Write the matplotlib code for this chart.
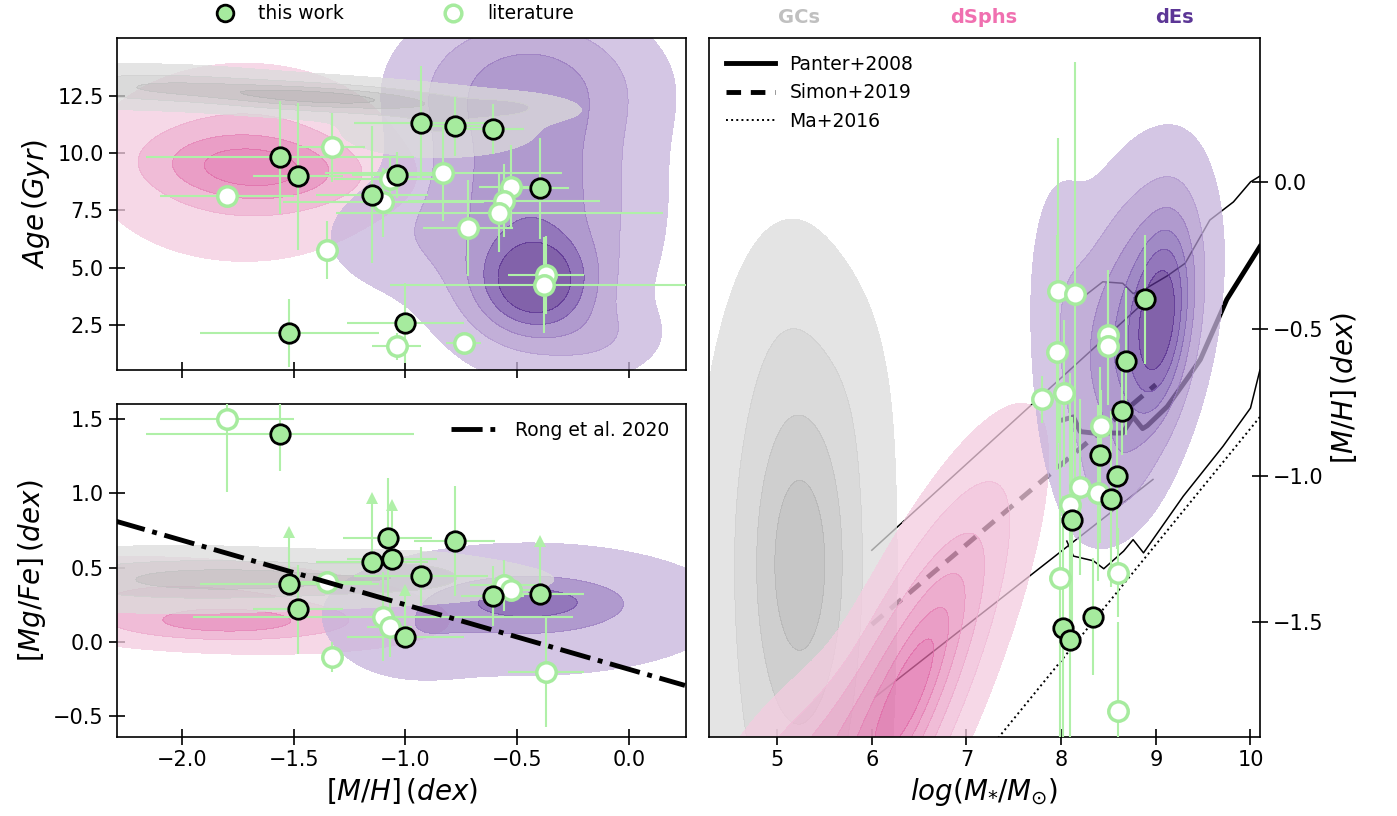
import numpy as np
import matplotlib.pyplot as plt
from matplotlib.lines import Line2D
from matplotlib.colors import to_rgb

# ---------------- data ----------------
# this work: [M/H], age, errors
tw_mh_age = [-0.93, -0.78, -0.61, -1.56, -1.48, -1.04, -1.15, -0.40, -1.00, -1.52]
tw_age = [11.32, 11.17, 11.04, 9.81, 8.99, 9.05, 8.19, 8.46, 2.59, 2.15]
tw_age_xerr = [0.30, 0.12, 0.14, 0.60, 0.20, 0.20, 0.25, 0.13, 0.26, 0.40]
tw_age_yerr = [2.5, 1.3, 1.1, 2.45, 3.2, 1.0, 3.0, 2.2, 1.75, 1.5]

# literature: [M/H], age, errors
lit_mh_age = [-1.33, -1.80, -1.07, -1.10, -0.83, -0.53, -0.56, -0.58, -0.72, -1.35, -0.37, -0.38, -1.04, -0.74]
lit_age = [10.26, 8.11, 8.88, 7.85, 9.12, 8.54, 7.92, 7.37, 6.73, 5.76, 4.66, 4.24, 1.56, 1.71]
lit_age_xerr = [0.15, 0.30, 0.25, 0.45, 0.53, 0.14, 0.43, 0.73, 0.20, 0.0, 0.17, 0.69, 0.11, 0.08]
lit_age_yerr = [1.5, 0.3, 0.9, 1.5, 2.1, 1.8, 1.6, 1.7, 2.1, 1.27, 1.7, 2.1, 0.6, 0.3]

# this work: [M/H], [Mg/Fe]
tw_mh_mg = [-1.56, -1.52, -1.48, -1.15, -1.08, -1.06, -1.00, -0.93, -0.78, -0.61, -0.40]
tw_mg = [1.40, 0.39, 0.22, 0.54, 0.70, 0.56, 0.03, 0.44, 0.68, 0.31, 0.32]
tw_mg_xerr = [0.60, 0.40, 0.20, 0.25, 0.20, 0.20, 0.26, 0.30, 0.18, 0.14, 0.20]
tw_mg_yerr = [0.25, 0.35, 0.30, 0.43, 0.40, 0.36, 0.32, 0.20, 0.37, 0.20, 0.36]
tw_mg_lolim = [False, True, False, True, False, True, True, False, False, False, True]

# literature: [M/H], [Mg/Fe]
lit_mh_mg = [-1.80, -1.35, -1.33, -1.10, -1.07, -0.56, -0.53, -0.37]
lit_mg = [1.50, 0.40, -0.10, 0.17, 0.10, 0.38, 0.35, -0.20]
lit_mg_xerr = [0.30, 0.20, 0.03, 0.85, 0.10, 0.15, 0.10, 0.17]
lit_mg_yerr = [0.49, 0.0, 0.10, 0.30, 0.20, 0.17, 0.05, 0.37]

# mass-metallicity
tw_mass = [8.89, 8.68, 8.64, 8.41, 8.59, 8.53, 8.11, 8.34, 8.02, 8.09]
tw_mh = [-0.40, -0.61, -0.78, -0.93, -1.00, -1.08, -1.15, -1.48, -1.52, -1.56]
tw_mh_err = [0.22, 0.25, 0.15, 0.30, 0.25, 0.30, 0.35, 0.20, 0.45, 0.45]
lit_mass = [7.97, 8.15, 7.96, 8.49, 8.49, 7.80, 8.03, 8.42, 8.20, 8.39, 8.09, 7.99, 8.60, 8.60]
lit_mh = [-0.37, -0.38, -0.58, -0.52, -0.56, -0.74, -0.72, -0.83, -1.04, -1.06, -1.10, -1.35, -1.33, -1.80]
lit_mh_err = [0.52, 0.79, 0.40, 0.22, 0.20, 0.08, 0.25, 0.12, 0.30, 0.30, 0.45, 0.60, 0.15, 0.30]

# Rong et al. 2020 relation
rong_mh = [-2.3, 0.25]
rong_mg = [0.814, -0.293]

# mass-metallicity relations
panter_x = [8.02, 8.13, 8.20, 8.34, 8.65, 8.76, 8.86, 8.91, 9.12, 9.33, 9.47, 9.75, 10.1]
panter_y = [-0.81, -0.80, -0.85, -0.855, -0.855, -0.80, -0.84, -0.83, -0.765, -0.67, -0.605, -0.40, -0.22]
panter_hi_x = [8.20, 8.44, 8.65, 8.76, 8.91, 9.12, 9.31, 9.57, 9.82, 10.0, 10.15]
panter_hi_y = [-0.40, -0.34, -0.345, -0.38, -0.36, -0.32, -0.277, -0.13, -0.068, 0.0, 0.03]
panter_lo_x = [8.06, 8.13, 8.34, 8.45, 8.66, 8.76, 8.87, 9.29, 9.71, 10.0, 10.1]
panter_lo_y = [-1.223, -1.274, -1.29, -1.317, -1.257, -1.218, -1.263, -1.07, -0.90, -0.77, -0.64]
simon_x = [6.0, 9.0]
simon_y = [-1.507, -0.69]
simon_hi_x = [6.0, 8.91]
simon_hi_y = [-1.254, -0.40]
simon_lo_x = [6.03, 8.97]
simon_lo_y = [-1.755, -1.013]
ma_x = [7.3, 10.1]
ma_y = [-1.907, -0.80]

# density blobs (x0, y0, sx, sy, rho, weight) for the GCs / dSphs / dEs regions
gc_age_kde = [(-1.4, 12.45, 0.45, 0.46, -0.5, 1.0), (-0.85, 11.0, 0.22, 0.60, 0.0, 0.3),
              (-0.55, 12.0, 0.13, 0.30, 0.0, 0.25), (-2.2, 12.9, 0.30, 0.45, 0.0, 0.4)]
dsph_age_kde = [(-1.68, 9.35, 0.26, 0.9, -0.15, 1.0), (-1.72, 9.6, 0.32, 2.0, 0.0, 0.45)]
de_age_kde = [(-0.42, 4.35, 0.15, 1.3, 0.0, 1.0), (-0.45, 8.0, 0.28, 3.5, 0.0, 0.45),
              (-0.45, 13.0, 0.30, 1.8, 0.0, 0.3), (-1.05, 6.3, 0.22, 1.5, 0.0, 0.08),
              (-0.15, 2.0, 0.17, 1.0, 0.0, 0.12)]
gc_mg_kde = [(-1.55, 0.42, 0.50, 0.08, 0.0, 1.0), (-2.1, 0.42, 0.40, 0.10, 0.0, 0.6),
             (-1.0, 0.45, 0.18, 0.07, 0.0, 0.4)]
dsph_mg_kde = [(-1.8, 0.13, 0.30, 0.07, 0.0, 1.0), (-1.9, 0.25, 0.50, 0.15, -0.3, 0.6)]
de_mg_kde = [(-0.45, 0.27, 0.22, 0.09, 0.0, 1.0), (-0.45, 0.22, 0.40, 0.20, 0.0, 0.55),
             (-0.95, 0.05, 0.17, 0.15, 0.0, 0.25)]
gc_mass_kde = [(5.25, -1.3, 0.30, 0.30, 0.0, 1.0), (5.2, -1.1, 0.50, 0.45, 0.0, 0.5),
               (5.1, -0.6, 0.30, 0.25, 0.0, 0.09), (5.75, -0.75, 0.25, 0.22, 0.0, 0.06),
               (5.2, -1.9, 0.50, 0.40, 0.0, 0.4)]
dsph_mass_kde = [(6.25, -1.8, 0.65, 0.42, 0.82, 1.0), (6.45, -1.7, 0.30, 0.20, 0.8, 0.5),
                 (5.2, -2.05, 0.55, 0.22, 0.6, 0.35)]
de_mass_kde = [(9.05, -0.47, 0.20, 0.20, 0.3, 1.0), (8.75, -0.5, 0.42, 0.30, 0.35, 0.6),
               (8.6, -1.0, 0.25, 0.12, 0.3, 0.15), (8.0, -0.35, 0.22, 0.25, 0.0, 0.1)]

gc_cols = ['#e4e4e4', '#dadada', '#d0d0d0', '#c7c7c7']
dsph_cols = ['#f7d9e8', '#f4cbe0', '#f1bcd7', '#eeadce', '#eb9ec6', '#e88fbe']
de_cols = ['#d4c6e5', '#c2afd9', '#b09ace', '#a08ac5', '#9377bb', '#8262aa']

green = '#a6eb9e'
errc = '#b0f0a8'


def blobs(X, Y, comps):
    Z = np.zeros_like(X)
    for mx, my, sx, sy, rho, w in comps:
        dx = (X - mx) / sx
        dy = (Y - my) / sy
        Z += w * np.exp(-(dx**2 - 2 * rho * dx * dy + dy**2) / (2 * (1 - rho**2)))
    return Z / Z.max()


def shade(ax, X, Y, comps, cols, levels, alpha=0.75, z=2):
    # colours as seen on white -> underlying colour for the given alpha
    base = [tuple(np.clip((np.array(to_rgb(c)) - (1 - alpha)) / alpha, 0, 1)) for c in cols]
    ax.contourf(X, Y, blobs(X, Y, comps), levels=list(levels) + [1.01], colors=base,
                alpha=alpha, zorder=z)


def points(ax, x, y, xerr, yerr, lit, lolims=None):
    if lolims is None:
        ax.errorbar(x, y, xerr=xerr, yerr=yerr, fmt='none', ecolor=errc, elinewidth=1.5,
                    capsize=0, zorder=3)
    else:
        x, y, xerr, yerr = map(np.asarray, (x, y, xerr, yerr))
        lim = np.asarray(lolims)
        ax.errorbar(x[~lim], y[~lim], xerr=xerr[~lim], yerr=yerr[~lim], fmt='none',
                    ecolor=errc, elinewidth=1.5, capsize=0, zorder=3)
        ax.errorbar(x[lim], y[lim], xerr=xerr[lim], fmt='none', ecolor=errc,
                    elinewidth=1.5, capsize=0, zorder=3)
        ax.vlines(x[lim], y[lim], y[lim] + yerr[lim], color=errc, lw=1.5, zorder=3)
        ax.plot(x[lim], y[lim] + yerr[lim], '^', ms=9, color=errc, mew=0, zorder=3)
    if lit:
        ax.plot(x, y, 'o', ms=14, mfc='white', mec=green, mew=2.5, zorder=4)
    else:
        ax.plot(x, y, 'o', ms=14, mfc=green, mec='black', mew=2, zorder=5)


plt.rcParams['font.family'] = 'DejaVu Sans'
fig = plt.figure(figsize=(13.97, 8.16), dpi=100)
ax1 = fig.add_axes([0.0838, 0.5466, 0.4073, 0.4069])
ax2 = fig.add_axes([0.0838, 0.0968, 0.4073, 0.4080])
ax3 = fig.add_axes([0.5075, 0.0968, 0.3944, 0.8566])

# --- top left: age ---
X, Y = np.meshgrid(np.linspace(-2.6, 0.5, 320), np.linspace(-1, 17, 320))
shade(ax1, X, Y, dsph_age_kde, dsph_cols[::2] + [dsph_cols[-1]], [0.03, 0.2, 0.45, 0.75])
shade(ax1, X, Y, de_age_kde, de_cols[:3] + de_cols[4:], [0.03, 0.12, 0.25, 0.42, 0.62])
shade(ax1, X, Y, gc_age_kde, gc_cols, [0.04, 0.3, 0.6, 0.85])
points(ax1, lit_mh_age, lit_age, lit_age_xerr, lit_age_yerr, True)
points(ax1, tw_mh_age, tw_age, tw_age_xerr, tw_age_yerr, False)
ax1.set_xlim(-2.29, 0.255)
ax1.set_ylim(0.53, 15.03)
ax1.set_yticks([2.5, 5.0, 7.5, 10.0, 12.5])
ax1.set_xticks([-2.0, -1.5, -1.0, -0.5, 0.0])
ax1.tick_params(labelbottom=False)
ax1.set_ylabel(r'$Age\,(Gyr)$', fontsize=20)

# --- bottom left: [Mg/Fe] ---
X, Y = np.meshgrid(np.linspace(-2.6, 0.5, 320), np.linspace(-1, 2, 320))
shade(ax2, X, Y, dsph_mg_kde, dsph_cols[::2], [0.04, 0.3, 0.7])
shade(ax2, X, Y, de_mg_kde, de_cols[::2], [0.03, 0.3, 0.7])
shade(ax2, X, Y, gc_mg_kde, gc_cols[:3], [0.04, 0.35, 0.75])
ax2.plot(rong_mh, rong_mg, color='black', ls='-.', lw=3.5, zorder=6, label='Rong et al. 2020')
points(ax2, lit_mh_mg, lit_mg, lit_mg_xerr, lit_mg_yerr, True)
points(ax2, tw_mh_mg, tw_mg, tw_mg_xerr, tw_mg_yerr, False, lolims=tw_mg_lolim)
ax2.set_xlim(-2.29, 0.255)
ax2.set_ylim(-0.64, 1.6)
ax2.set_xticks([-2.0, -1.5, -1.0, -0.5, 0.0])
ax2.set_yticks([-0.5, 0.0, 0.5, 1.0, 1.5])
ax2.set_xlabel(r'$[M/H]\,(dex)$', fontsize=20)
ax2.set_ylabel(r'$[Mg/Fe]\,(dex)$', fontsize=20)
ax2.legend(loc='upper right', frameon=False, fontsize=13.5, handlelength=2.6)

# --- right: mass-metallicity ---
ax3.plot(panter_x, panter_y, color='black', lw=3.5, zorder=1)
ax3.plot(panter_hi_x, panter_hi_y, color='black', lw=1.1, zorder=1)
ax3.plot(panter_lo_x, panter_lo_y, color='black', lw=1.1, zorder=1)
ax3.plot(simon_x, simon_y, color='black', lw=3.5, ls=(0, (3, 2)), zorder=1)
ax3.plot(simon_hi_x, simon_hi_y, color='black', lw=1.1, zorder=1)
ax3.plot(simon_lo_x, simon_lo_y, color='black', lw=1.1, zorder=1)
ax3.plot(ma_x, ma_y, color='black', lw=1.4, ls=':', zorder=1)
X, Y = np.meshgrid(np.linspace(3.5, 11, 320), np.linspace(-2.6, 1, 320))
shade(ax3, X, Y, gc_mass_kde, gc_cols, [0.04, 0.2, 0.45, 0.75])
shade(ax3, X, Y, dsph_mass_kde, dsph_cols, [0.03, 0.12, 0.25, 0.42, 0.62, 0.82])
shade(ax3, X, Y, de_mass_kde, de_cols, [0.03, 0.12, 0.25, 0.4, 0.56, 0.75])
points(ax3, lit_mass, lit_mh, None, lit_mh_err, True)
points(ax3, tw_mass, tw_mh, None, tw_mh_err, False)
ax3.set_xlim(4.28, 10.1)
ax3.set_ylim(-1.89, 0.49)
ax3.set_xticks([5, 6, 7, 8, 9, 10])
ax3.set_yticks([-1.5, -1.0, -0.5, 0.0])
ax3.yaxis.tick_right()
ax3.yaxis.set_label_position('right')
ax3.set_xlabel(r'$log(M_{*}/M_{\odot})$', fontsize=20)
ax3.set_ylabel(r'$[M/H]\,(dex)$', fontsize=20)
rel_handles = [Line2D([], [], color='black', lw=3.5),
               Line2D([], [], color='black', lw=3.5, ls=(0, (3, 2))),
               Line2D([], [], color='black', lw=1.4, ls=':')]
ax3.legend(rel_handles, ['Panter+2008', 'Simon+2019', 'Ma+2016'], loc='upper left',
           frameon=False, fontsize=13.5, handlelength=2.6)

for ax in (ax1, ax2, ax3):
    ax.tick_params(direction='inout', length=12, width=1.2, labelsize=15)
    for s in ax.spines.values():
        s.set_linewidth(1.2)

# top legend and population labels
pt_handles = [Line2D([], [], ls='none', marker='o', ms=12, mfc=green, mec='black', mew=2),
              Line2D([], [], ls='none', marker='o', ms=12, mfc='white', mec=green, mew=2.5)]
fig.legend(pt_handles, ['this work', 'literature'], loc='center', ncol=2,
           bbox_to_anchor=(0.279, 0.983), frameon=False, fontsize=13.5, columnspacing=4.8)
fig.text(0.572, 0.978, 'GCs', color='#c0c0c0', fontsize=14, fontweight='bold', ha='center', va='center')
fig.text(0.704, 0.978, 'dSphs', color='#f070b0', fontsize=14, fontweight='bold', ha='center', va='center')
fig.text(0.841, 0.978, 'dEs', color='#5c3696', fontsize=14, fontweight='bold', ha='center', va='center')

fig.savefig('out.png', dpi=100)
